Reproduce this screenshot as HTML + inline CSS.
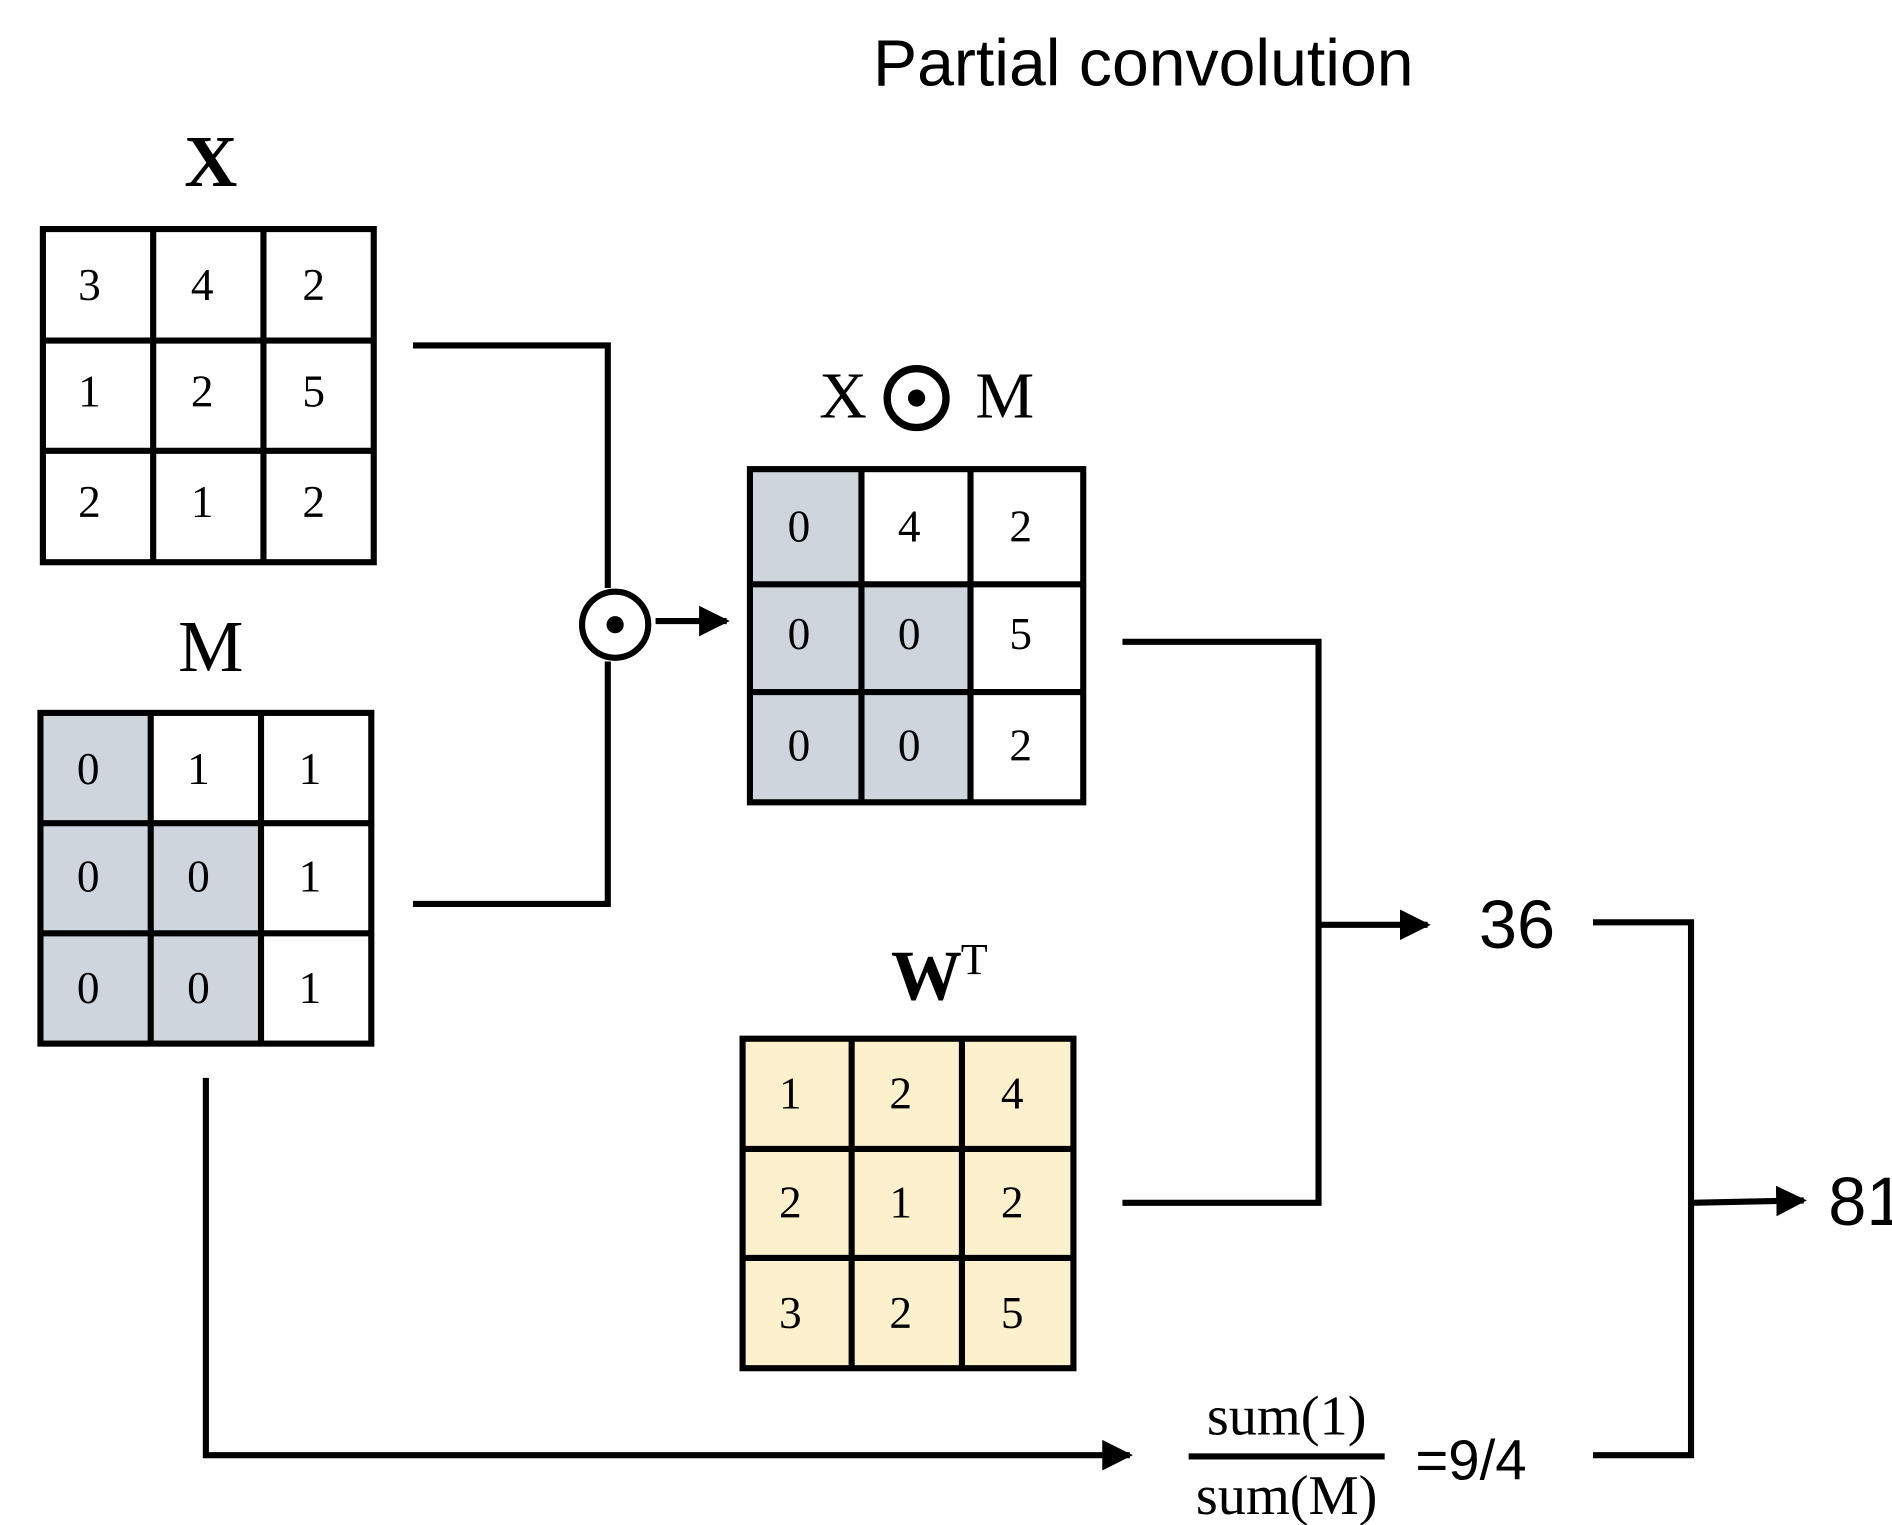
<!DOCTYPE html>
<html><head><style>html,body{margin:0;padding:0;background:#fff}svg{display:block}</style></head>
<body>
<svg width="1892" height="1525" viewBox="0 0 1544 1245" preserveAspectRatio="none" xmlns="http://www.w3.org/2000/svg">
<defs>
<marker id="ah" viewBox="0 0 10 10" refX="9" refY="5" markerWidth="5" markerHeight="5" orient="auto" markerUnits="strokeWidth">
<path d="M0,0 L10,5 L0,10 z" fill="#000"/></marker>
</defs>
<rect width="1544" height="1245" fill="#fff"/>
<text x="933" y="70" font-family="Liberation Sans, sans-serif" font-size="54" text-anchor="middle">Partial convolution</text>

<g font-family="Liberation Serif, serif" text-anchor="middle">
<text x="172" y="152" font-size="60" font-weight="bold">X</text>
<text x="172" y="548" font-size="60">M</text>
<text x="688" y="341" font-size="54">X</text>
<text x="820" y="341" font-size="54">M</text>
<text x="756" y="816" font-size="58" font-weight="bold">W</text>
<text x="795" y="795" font-size="36">T</text>
</g>
<circle cx="748" cy="325" r="24" fill="none" stroke="#000" stroke-width="6"/>
<circle cx="748" cy="325" r="7" fill="#000"/>

<g stroke="#000" stroke-width="5" fill="#fff">
<rect x="35" y="187" width="270" height="272"/>
<line x1="125" y1="187" x2="125" y2="459"/><line x1="215" y1="187" x2="215" y2="459"/>
<line x1="35" y1="278" x2="305" y2="278"/><line x1="35" y1="368" x2="305" y2="368"/>
</g>
<g fill="#ced5dd">
<rect x="33" y="582" width="90" height="90"/><rect x="33" y="672" width="180" height="180"/>
</g>
<g stroke="#000" stroke-width="5" fill="none">
<rect x="33" y="582" width="270" height="270"/>
<line x1="123" y1="582" x2="123" y2="852"/><line x1="213" y1="582" x2="213" y2="852"/>
<line x1="33" y1="672" x2="303" y2="672"/><line x1="33" y1="762" x2="303" y2="762"/>
</g>
<g fill="#ced5dd">
<rect x="612" y="383" width="91" height="94"/><rect x="612" y="477" width="182" height="178"/>
</g>
<g stroke="#000" stroke-width="5" fill="none">
<rect x="612" y="383" width="272" height="272"/>
<line x1="703" y1="383" x2="703" y2="655"/><line x1="792" y1="383" x2="792" y2="655"/>
<line x1="612" y1="477" x2="884" y2="477"/><line x1="612" y1="565" x2="884" y2="565"/>
</g>
<g stroke="#000" stroke-width="5" fill="#fdf0cc">
<rect x="606" y="848" width="270" height="269"/>
<line x1="695" y1="848" x2="695" y2="1117"/><line x1="785" y1="848" x2="785" y2="1117"/>
<line x1="606" y1="938" x2="876" y2="938"/><line x1="606" y1="1027" x2="876" y2="1027"/>
</g>

<g font-family="Liberation Serif, serif" font-size="37" text-anchor="middle">
<text x="73" y="245">3</text><text x="165" y="245">4</text><text x="256" y="245">2</text>
<text x="73" y="332">1</text><text x="165" y="332">2</text><text x="256" y="332">5</text>
<text x="73" y="422">2</text><text x="165" y="422">1</text><text x="256" y="422">2</text>
<text x="72" y="640">0</text><text x="162" y="640">1</text><text x="253" y="640">1</text>
<text x="72" y="728">0</text><text x="162" y="728">0</text><text x="253" y="728">1</text>
<text x="72" y="819">0</text><text x="162" y="819">0</text><text x="253" y="819">1</text>
<text x="652" y="442">0</text><text x="742" y="442">4</text><text x="833" y="442">2</text>
<text x="652" y="530">0</text><text x="742" y="530">0</text><text x="833" y="530">5</text>
<text x="652" y="621">0</text><text x="742" y="621">0</text><text x="833" y="621">2</text>
<text x="645" y="905">1</text><text x="735" y="905">2</text><text x="826" y="905">4</text>
<text x="645" y="994">2</text><text x="735" y="994">1</text><text x="826" y="994">2</text>
<text x="645" y="1084">3</text><text x="735" y="1084">2</text><text x="826" y="1084">5</text>
</g>

<g stroke="#000" stroke-width="5" fill="none">
<polyline points="337,282 496,282 496,480"/>
<polyline points="337,738 496,738 496,540"/>
<circle cx="502" cy="510" r="27"/>
<line x1="535" y1="507" x2="593" y2="507" marker-end="url(#ah)"/>
<polyline points="916,524 1076,524 1076,982 916,982"/>
<line x1="1076" y1="755" x2="1165" y2="755" marker-end="url(#ah)"/>
<polyline points="1300,753 1380,753 1380,1188 1300,1188"/>
<line x1="1380" y1="982" x2="1472" y2="980" marker-end="url(#ah)"/>
<polyline points="168,880 168,1188 922,1188" marker-end="url(#ah)"/>
<line x1="970" y1="1189" x2="1130" y2="1189"/>
</g>
<circle cx="502" cy="510" r="7" fill="#000"/>

<g font-family="Liberation Sans, sans-serif" font-size="56">
<text x="1238" y="774" text-anchor="middle">36</text>
<text x="1492" y="1000">81</text>
<text x="1155" y="1208" font-size="46">=9/4</text>
</g>
<g font-family="Liberation Serif, serif" font-size="46" text-anchor="middle">
<text x="1050" y="1171">sum(1)</text>
<text x="1050" y="1236">sum(M)</text>
</g>
</svg>
</body></html>
